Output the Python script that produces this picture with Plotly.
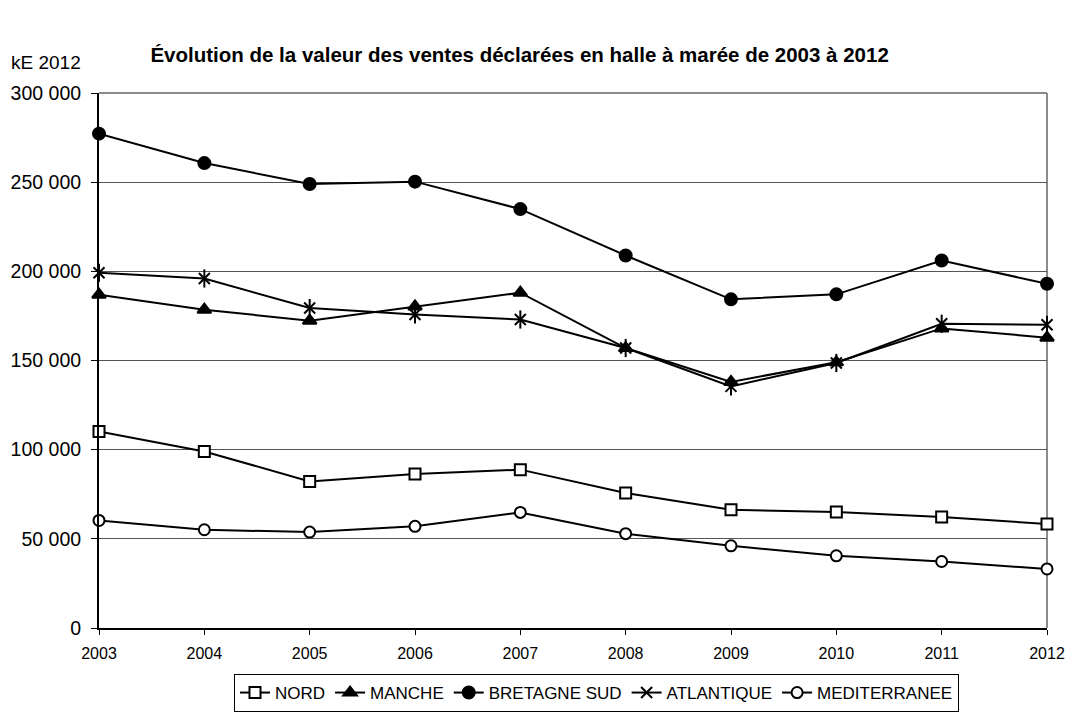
import plotly.graph_objects as go

years = [2003, 2004, 2005, 2006, 2007, 2008, 2009, 2010, 2011, 2012]
nord = [110200, 99000, 82200, 86300, 88800, 75700, 66300, 65000, 62200, 58300]
manche = [186900, 178500, 172300, 180300, 188000, 157000, 138000, 149000, 168000, 162800]
bretagne_sud = [277200, 260700, 249000, 250300, 234900, 208900, 184300, 187100, 206100, 193000]
atlantique = [199200, 196000, 179400, 175800, 173000, 157000, 135500, 148600, 170600, 170000]
mediterranee = [60300, 55100, 53800, 57000, 64800, 52900, 46100, 40500, 37300, 33100]

y_ticks = [0, 50000, 100000, 150000, 200000, 250000, 300000]
y_tick_text = ["0", "50 000", "100 000", "150 000", "200 000", "250 000", "300 000"]

FONT = "Liberation Sans, Arial, sans-serif"
BLACK = "#000000"

fig = go.Figure()

def add(name, vals, symbol, fill, size, show=True):
    fig.add_trace(go.Scatter(
        x=years, y=vals, name=name, mode="lines+markers",
        line=dict(color=BLACK, width=2),
        marker=dict(symbol=symbol, size=size, color=fill,
                    line=dict(color=BLACK, width=2)),
        cliponaxis=False, showlegend=show,
    ))

add("NORD", nord, "square", "white", 11)
add("MANCHE", manche, "triangle-up", BLACK, 12)
add("BRETAGNE SUD", bretagne_sud, "circle", BLACK, 12)
add("ATLANTIQUE", atlantique, "x-thin-open", BLACK, 11)
fig.add_trace(go.Scatter(
    x=years, y=atlantique, mode="markers", showlegend=False, hoverinfo="skip",
    marker=dict(symbol="line-ns-open", size=13, color=BLACK,
                line=dict(color=BLACK, width=2)),
    cliponaxis=False,
))
add("MEDITERRANEE", mediterranee, "circle", "white", 11)

fig.update_layout(
    width=1067, height=715,
    margin=dict(l=99, r=20, t=93, b=87, autoexpand=False),
    paper_bgcolor="white", plot_bgcolor="white",
    font=dict(family=FONT, color=BLACK),
    title=dict(
        text="<b>Évolution de la valeur des ventes déclarées en halle à marée de 2003 à 2012</b>",
        x=0.487, xanchor="center", y=1 - 55 / 715, yanchor="middle",
        font=dict(size=20.5, family=FONT, color=BLACK),
    ),
    showlegend=True,
    legend=dict(
        orientation="h", xref="container", yref="container",
        x=596.5 / 1067, xanchor="center", y=3 / 715, yanchor="bottom",
        bordercolor=BLACK, borderwidth=1, bgcolor="white",
        font=dict(size=17, family=FONT, color=BLACK),
        itemwidth=30, tracegroupgap=0,
    ),
    xaxis=dict(
        range=[2003, 2012], tickvals=years, ticktext=[str(y) for y in years],
        showgrid=False, zeroline=False,
        showline=True, linecolor=BLACK, linewidth=2,
        ticks="outside", ticklen=5, tickwidth=1, tickcolor=BLACK,
        tickfont=dict(size=16, family=FONT, color=BLACK),
        ticklabelstandoff=5, ticklabeloverflow="allow",
    ),
    yaxis=dict(
        range=[0, 300000], tickvals=y_ticks, ticktext=y_tick_text,
        showgrid=True, gridcolor="#555555", gridwidth=1, zeroline=False,
        showline=True, linecolor=BLACK, linewidth=2,
        ticks="outside", ticklen=6, tickwidth=1, tickcolor=BLACK,
        tickfont=dict(size=19.5, family=FONT, color=BLACK),
        ticklabelstandoff=6,
    ),
    shapes=[
        dict(type="line", xref="paper", yref="paper", x0=0, x1=1, y0=1, y1=1,
             line=dict(color="#8c8c8c", width=2), layer="below"),
        dict(type="line", xref="paper", yref="paper", x0=1, x1=1, y0=0, y1=1,
             line=dict(color="#8c8c8c", width=2), layer="below"),
    ],
    annotations=[
        dict(text="kE 2012", xref="paper", yref="paper", x=-0.095, y=1.057,
             xanchor="left", yanchor="middle", showarrow=False,
             font=dict(size=19, family=FONT, color=BLACK)),
    ],
)

fig.write_html(
    "out.html",
    config={"displayModeBar": False},
    post_script="document.body.style.margin='0';document.body.style.overflow='hidden';",
)
